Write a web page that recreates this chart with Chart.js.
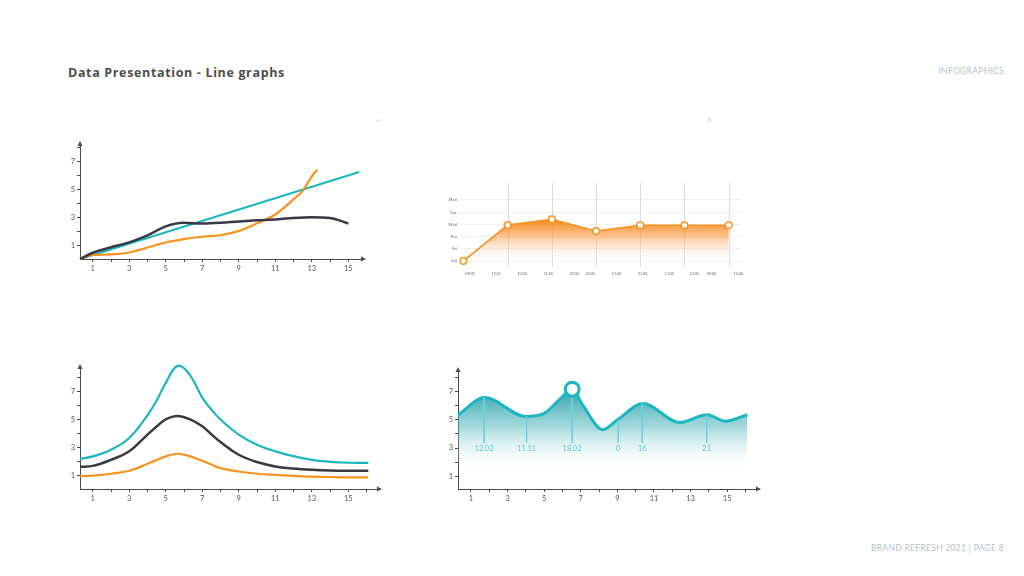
<!DOCTYPE html>
<html>
<head>
<meta charset="utf-8">
<script src="https://cdn.jsdelivr.net/npm/chart.js@4.4.1/dist/chart.umd.min.js"></script>
<style>
  html, body { margin: 0; padding: 0; background: #fff; }
  body { width: 1024px; height: 576px; position: relative; overflow: hidden; font-family: Lato, 'Open Sans', sans-serif; }
  .box { position: absolute; }
  .title { position: absolute; left: 68px; top: 64px; font-family: 'Open Sans', sans-serif; font-size: 12.5px; font-weight: 700; letter-spacing: 0.65px; color: #4d4d4f; }
  .tag { position: absolute; right: 20px; font-size: 8.5px; color: #b7bfca; letter-spacing: 0.3px; }
  .mark { position: absolute; font-size: 5px; color: #c8c8c8; }
</style>
</head>
<body>
<div class="title">Data Presentation - Line graphs</div>
<div class="tag" style="top:66px">INFOGRAPHICS</div>
<div class="tag" style="top:543px">BRAND REFRESH 2021 | PAGE 8</div>
<div class="mark" style="left:376px;top:117px">A</div>
<div class="mark" style="left:708px;top:117px">B</div>

<div class="box" style="left:50px;top:130px;width:330px;height:150px"><canvas id="chartA"></canvas></div>
<div class="box" style="left:440px;top:175px;width:310px;height:100px"><canvas id="chartB"></canvas></div>
<div class="box" style="left:50px;top:350px;width:340px;height:160px"><canvas id="chartC"></canvas></div>
<div class="box" style="left:428px;top:355px;width:340px;height:155px"><canvas id="chartD"></canvas></div>

<script>
// chart A (top left)
const aTealX = [0.3, 15.6];
const aTeal = [0, 6.26];
const aDarkX = [0.3, 1, 2, 3, 4, 5, 6, 7, 8, 9, 10, 11, 12, 13, 14, 15];
const aDark = [0, 0.45, 0.85, 1.2, 1.7, 2.35, 2.6, 2.55, 2.6, 2.7, 2.78, 2.85, 2.95, 3.0, 2.95, 2.55];
const aOrangeX = [0.3, 1, 2, 3, 4, 5, 6, 7, 8, 9, 10, 11, 12, 12.5, 13, 13.3];
const aOrange = [0, 0.29, 0.33, 0.47, 0.83, 1.19, 1.43, 1.6, 1.71, 2.02, 2.57, 3.2, 4.29, 4.9, 5.95, 6.43];

// chart B (top right)
const bX = [0, 1, 2, 3, 4, 5, 6];
const bY = [0, 2.95, 3.42, 2.46, 2.93, 2.93, 2.93];
const bDays = ['Sat', 'Fri', 'Thu', 'Wed', 'Tue', 'Mon'];
const bTickPos = [0.15, 0.74, 1.33, 1.92, 2.51, 2.87, 3.46, 4.05, 4.66, 5.22, 5.61, 6.22];
const bTickLabels = ['09:00', '13:00', '10:00', '11:00', '22:00', '03:00', '13:00', '01:00', '11:00', '23:00', '09:00', '15:00'];

// chart C (bottom left)
const cX = [0.3, 1, 2, 3, 4, 4.5, 5, 5.65, 6.3, 7, 7.5, 8, 9, 10, 11, 12, 13, 14, 15, 16.1];
const cTeal = [2.21, 2.38, 2.86, 3.69, 5.3, 6.35, 7.6, 8.8, 8.2, 6.55, 5.7, 5.0, 3.93, 3.21, 2.74, 2.4, 2.14, 2.0, 1.93, 1.92];
const cDark = [1.64, 1.71, 2.14, 2.74, 3.93, 4.5, 5.0, 5.24, 5.02, 4.52, 3.95, 3.4, 2.5, 1.98, 1.67, 1.52, 1.43, 1.38, 1.36, 1.36];
const cOrange = [0.98, 1.02, 1.15, 1.36, 1.86, 2.13, 2.38, 2.57, 2.4, 2.07, 1.8, 1.55, 1.31, 1.15, 1.07, 1.0, 0.95, 0.92, 0.9, 0.9];

// chart D (bottom right)
const dX = [0.29, 1.75, 4.0, 5.0, 6.0, 6.53, 7.1, 8.2, 9.0, 10.4, 12.4, 13.9, 14.9, 16.1];
const dY = [5.35, 6.57, 5.23, 5.45, 6.64, 7.16, 6.05, 4.3, 5.0, 6.15, 4.8, 5.35, 4.9, 5.35];
const dMarkX = [6.53];
const dMarkY = [7.16];
const annX = [1.72, 4.04, 6.53, 9.05, 10.36, 13.88];
const annTop = [6.57, 5.23, 7.16, 5.0, 6.15, 5.35];
const annLabels = ['12.02', '11.11', '18.02', '0', '16', '21'];
const annBase = 3.38;

const xTicks = [1, 2, 3, 4, 5, 6, 7, 8, 9, 10, 11, 12, 13, 14, 15];
const xTicksLong = [1, 2, 3, 4, 5, 6, 7, 8, 9, 10, 11, 12, 13, 14, 15, 16];
const yTicks = [1, 2, 3, 4, 5, 6, 7, 8];

const teal = '#1bb6c0', dark = '#393947', orange = '#f7931e', axisCol = '#4a4a4a';

Chart.defaults.font.family = 'Lato';
Chart.defaults.animation = false;

const pts = (xs, ys) => xs.map((x, i) => ({ x: x, y: ys[i] }));

const arrows = {
    id: 'arrows',
    afterDraw(chart) {
        const a = chart.chartArea, c = chart.ctx;
        c.save();
        c.fillStyle = axisCol;
        c.beginPath();
        c.moveTo(a.right + 4, a.bottom);
        c.lineTo(a.right - 1, a.bottom - 2.5);
        c.lineTo(a.right - 1, a.bottom + 2.5);
        c.fill();
        c.beginPath();
        c.moveTo(a.left, a.top - 4);
        c.lineTo(a.left - 2.5, a.top + 1);
        c.lineTo(a.left + 2.5, a.top + 1);
        c.fill();
        c.restore();
    }
};

function axis(min, max, ticks, isX) {
    return {
        type: 'linear', min: min, max: max,
        afterBuildTicks: s => { s.ticks = ticks.map(v => ({ value: v })); },
        afterFit: s => { if (isX) s.height = 21; else s.width = 30; },
        border: { display: true, color: axisCol, width: 1 },
        grid: { drawOnChartArea: false, drawTicks: true, tickLength: 3, color: axisCol },
        ticks: {
            callback: v => (v % 2 === 1 ? String(v) : ''),
            padding: 2, color: '#555', font: { size: 7.5 }, autoSkip: false, maxRotation: 0
        }
    };
}

function lineSet(xs, ys, color, width, smooth) {
    const s = {
        data: pts(xs, ys), borderColor: color, borderWidth: width,
        pointRadius: 0, fill: false, clip: false
    };
    if (smooth) s.tension = 0.4; else s.cubicInterpolationMode = 'monotone';
    return s;
}

function baseOptions(pad, xs, ys) {
    return {
        responsive: true, maintainAspectRatio: false,
        layout: { padding: pad },
        plugins: { legend: { display: false }, tooltip: { enabled: false } },
        scales: { x: xs, y: ys }
    };
}

// A
new Chart(document.getElementById('chartA'), {
    type: 'line',
    data: { datasets: [
        lineSet(aDarkX, aDark, dark, 2.5),
        lineSet(aOrangeX, aOrange, orange, 2.2),
        lineSet(aTealX, aTeal, teal, 2)
    ] },
    options: baseOptions({ top: 15, right: 18, left: 0, bottom: 0 },
        axis(0.3, 15.75, xTicks, true), axis(0, 8.2, yTicks, false)),
    plugins: [arrows]
});

// B
const vlines = {
    id: 'vlines',
    beforeDatasetsDraw(chart) {
        const c = chart.ctx, a = chart.chartArea, x = chart.scales.x;
        c.save();
        c.strokeStyle = '#dddddd';
        c.lineWidth = 1;
        bX.slice(1).forEach(v => {
            const px = Math.round(x.getPixelForValue(v)) + 0.5;
            c.beginPath();
            c.moveTo(px, a.top);
            c.lineTo(px, a.bottom + 4);
            c.stroke();
        });
        c.restore();
    }
};

new Chart(document.getElementById('chartB'), {
    type: 'line',
    data: { datasets: [{
        data: pts(bX, bY), borderColor: orange, borderWidth: 1.6, tension: 0,
        pointRadius: 3.3, pointBorderWidth: 1.5, pointBackgroundColor: '#fff', pointBorderColor: orange,
        fill: 'start', clip: false,
        backgroundColor: ctx => {
            const ch = ctx.chart, a = ch.chartArea;
            if (!a) return 'rgba(247,147,30,0.5)';
            const g = ch.ctx.createLinearGradient(0, ch.scales.y.getPixelForValue(3.4), 0, a.bottom);
            g.addColorStop(0, 'rgba(247,135,25,1)');
            g.addColorStop(0.35, 'rgba(249,160,80,0.7)');
            g.addColorStop(1, 'rgba(255,255,255,0)');
            return g;
        }
    }] },
    options: baseOptions({ top: 8, right: 8, left: 0, bottom: 0 },
        {
            type: 'linear', min: -0.075, max: 6.3,
            afterBuildTicks: s => { s.ticks = bTickPos.map(v => ({ value: v })); },
            afterFit: s => { s.height = 12; },
            grid: { display: false }, border: { display: false },
            ticks: { callback: (v, i) => bTickLabels[i], font: { size: 3.6 }, color: '#666', padding: 1, autoSkip: false, maxRotation: 0 }
        },
        {
            type: 'linear', min: -0.16, max: 6.39,
            afterBuildTicks: s => { s.ticks = bDays.map((d, i) => ({ value: i })); },
            afterFit: s => { s.width = 20; },
            grid: { color: '#efefef', drawTicks: false }, border: { display: false },
            ticks: { callback: (v, i) => bDays[i], font: { size: 4.2 }, color: '#666', padding: 3 }
        }),
    plugins: [vlines]
});

// C
new Chart(document.getElementById('chartC'), {
    type: 'line',
    data: { datasets: [
        lineSet(cX, cTeal, teal, 2.2, true),
        lineSet(cX, cDark, dark, 2.5, true),
        lineSet(cX, cOrange, orange, 2.2, true)
    ] },
    options: baseOptions({ top: 18, right: 12, left: 0, bottom: 0 },
        axis(0.3, 16.63, xTicksLong, true), axis(0.07, 8.65, yTicks, false)),
    plugins: [arrows]
});

// D
const annText = {
    id: 'annText',
    afterDatasetsDraw(chart) {
        const c = chart.ctx, x = chart.scales.x, y = chart.scales.y;
        c.save();
        c.fillStyle = '#5ec8cf';
        c.font = '7.5px Lato';
        c.textAlign = 'center';
        c.textBaseline = 'top';
        annX.forEach((v, i) => c.fillText(annLabels[i], x.getPixelForValue(v), y.getPixelForValue(annBase) + 2));
        c.restore();
    }
};

const dSets = [{
    data: pts(dX, dY), borderColor: teal, borderWidth: 3, pointRadius: 0,
    cubicInterpolationMode: 'monotone', clip: false, order: 2, fill: 'start',
    backgroundColor: ctx => {
        const ch = ctx.chart, a = ch.chartArea;
        if (!a) return 'rgba(27,182,192,0.4)';
        const y = ch.scales.y;
        const g = ch.ctx.createLinearGradient(0, y.getPixelForValue(7.2), 0, y.getPixelForValue(1.3));
        g.addColorStop(0, 'rgba(22,150,160,0.9)');
        g.addColorStop(0.45, 'rgba(70,178,184,0.5)');
        g.addColorStop(1, 'rgba(255,255,255,0)');
        return g;
    }
}];
annX.forEach((v, i) => dSets.push({
    data: pts([v, v], [annTop[i], annBase]), borderColor: '#6fd0d6', borderWidth: 1,
    pointRadius: 0, tension: 0, fill: false, order: 1
}));
dSets.push({
    data: pts(dMarkX, dMarkY), showLine: false, pointRadius: 7, pointBorderWidth: 3,
    pointBackgroundColor: '#fff', pointBorderColor: teal, clip: false, order: 0
});

new Chart(document.getElementById('chartD'), {
    type: 'line',
    data: { datasets: dSets },
    options: baseOptions({ top: 16, right: 11, left: 0, bottom: 0 },
        axis(0.29, 16.63, xTicksLong, true), axis(0.1, 8.45, yTicks, false)),
    plugins: [arrows, annText]
});
</script>
</body>
</html>
